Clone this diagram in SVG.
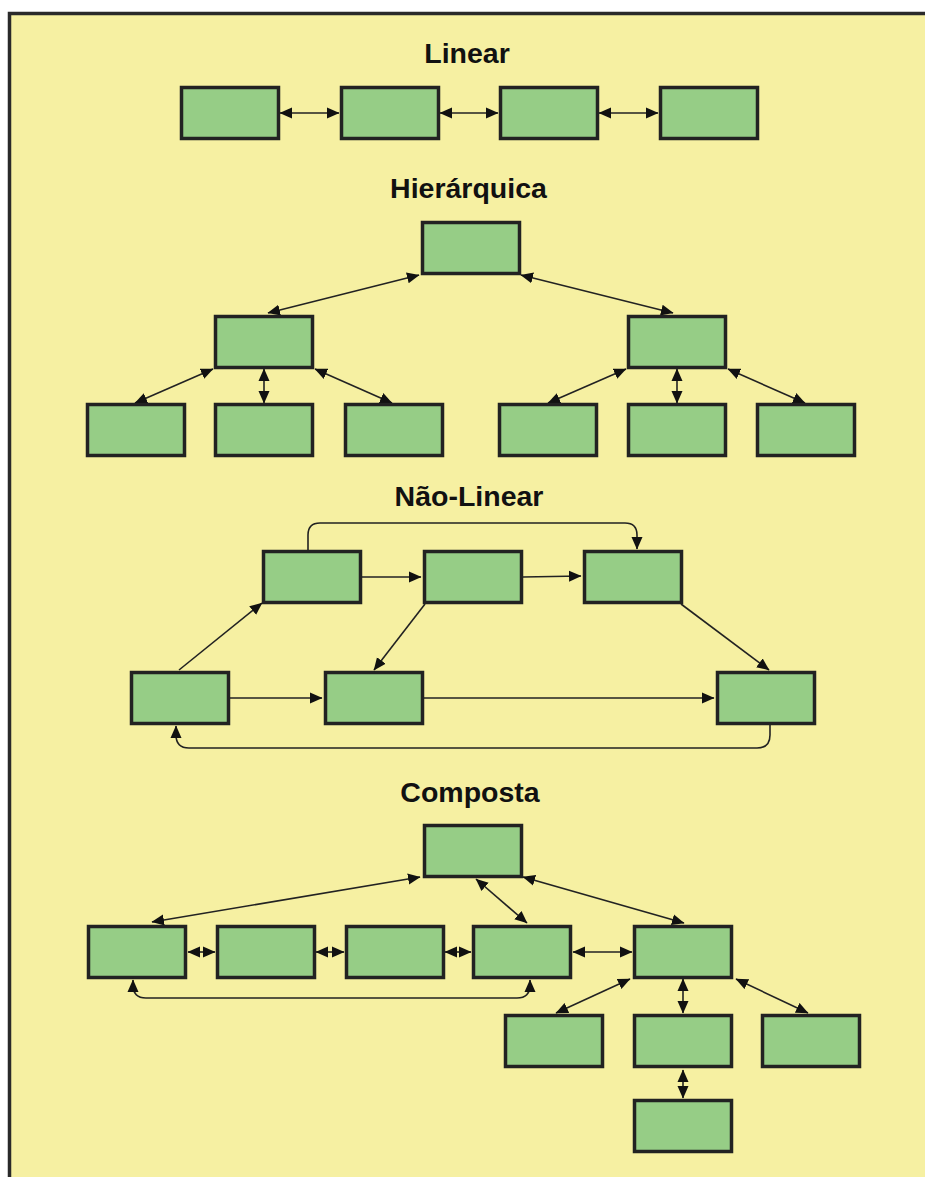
<svg xmlns="http://www.w3.org/2000/svg" width="925" height="1177" viewBox="0 0 925 1177">
<defs>
<style>
.bg{fill:#F6F0A2;stroke:#2a2a2a;stroke-width:3.5}
.n{fill:#96CD86;stroke:#222;stroke-width:3.5}
.t{font-family:"Liberation Sans",Arial,sans-serif;font-weight:bold;font-size:28.5px;fill:#111;text-anchor:middle}
.c{fill:none;stroke:#222;stroke-width:1.6}
.a2{marker-start:url(#ah);marker-end:url(#ah)}
.a1{marker-end:url(#ah)}
</style>
<marker id="ah" markerUnits="userSpaceOnUse" markerWidth="13" markerHeight="12" refX="12" refY="6" orient="auto-start-reverse">
<path d="M0,0.5 L12.5,6 L0,11.5 z" fill="#111"/>
</marker>
</defs>
<rect class="bg" x="9.5" y="13.5" width="1000" height="1200"/>

<g id="titles">
<text class="t" x="467" y="63">Linear</text>
<text class="t" x="468.5" y="198">Hierárquica</text>
<text class="t" x="469" y="506">Não-Linear</text>
<text class="t" x="470" y="802">Composta</text>
</g>

<g id="connectors">
<!-- Linear -->
<line class="c a2" x1="280" y1="113" x2="339" y2="113"/>
<line class="c a2" x1="440" y1="113" x2="498" y2="113"/>
<line class="c a2" x1="599" y1="113" x2="658" y2="113"/>
<!-- Hierarquica -->
<line class="c a2" x1="419" y1="275" x2="268" y2="313"/>
<line class="c a2" x1="521" y1="275" x2="673" y2="313"/>
<line class="c a2" x1="213" y1="369" x2="135" y2="403"/>
<line class="c a2" x1="264" y1="369" x2="264" y2="403"/>
<line class="c a2" x1="315" y1="369" x2="392" y2="403"/>
<line class="c a2" x1="626" y1="369" x2="548" y2="403"/>
<line class="c a2" x1="677" y1="369" x2="677" y2="403"/>
<line class="c a2" x1="728" y1="369" x2="805" y2="403"/>
<!-- Nao-Linear -->
<path class="c a1" d="M308,550 V535 Q308,523 320,523 H625 Q637,523 637,535 V549"/>
<line class="c a1" x1="362" y1="577" x2="421" y2="577"/>
<line class="c a1" x1="523" y1="577" x2="581" y2="576"/>
<line class="c a1" x1="179" y1="670" x2="262" y2="603"/>
<line class="c a1" x1="425" y1="604" x2="374" y2="670"/>
<line class="c a1" x1="681" y1="604" x2="769" y2="670"/>
<line class="c a1" x1="230" y1="698" x2="322" y2="698"/>
<line class="c a1" x1="424" y1="698" x2="714" y2="698"/>
<path class="c a1" d="M770,725 V735 Q770,748 757,748 H189 Q176,748 176,735 V726"/>
<!-- Composta -->
<line class="c a2" x1="420" y1="877" x2="152" y2="922"/>
<line class="c a2" x1="476" y1="879" x2="527" y2="923"/>
<line class="c a2" x1="523" y1="877" x2="684" y2="923"/>
<line class="c a2" x1="188" y1="952" x2="215" y2="952"/>
<line class="c a2" x1="316" y1="952" x2="344" y2="952"/>
<line class="c a2" x1="445" y1="952" x2="471" y2="952"/>
<line class="c a2" x1="573" y1="952" x2="632" y2="952"/>
<path class="c a2" d="M133,980 V985 Q133,998 146,998 H517 Q530,998 530,985 V980"/>
<line class="c a2" x1="630" y1="979" x2="556" y2="1013"/>
<line class="c a2" x1="683" y1="979" x2="683" y2="1013"/>
<line class="c a2" x1="736" y1="979" x2="808" y2="1013"/>
<line class="c a2" x1="683" y1="1070" x2="683" y2="1098"/>
</g>

<g id="linear">
<rect id="l1" class="n" x="181.5" y="87.5" width="97" height="51"/>
<rect id="l2" class="n" x="341.5" y="87.5" width="97" height="51"/>
<rect id="l3" class="n" x="500.5" y="87.5" width="97" height="51"/>
<rect id="l4" class="n" x="660.5" y="87.5" width="97" height="51"/>
</g>

<g id="hierarquica">
<rect id="h0" class="n" x="422.5" y="222.5" width="97" height="51"/>
<rect id="h1" class="n" x="215.5" y="316.5" width="97" height="51"/>
<rect id="h2" class="n" x="628.5" y="316.5" width="97" height="51"/>
<rect id="h11" class="n" x="87.5" y="404.5" width="97" height="51"/>
<rect id="h12" class="n" x="215.5" y="404.5" width="97" height="51"/>
<rect id="h13" class="n" x="345.5" y="404.5" width="97" height="51"/>
<rect id="h21" class="n" x="499.5" y="404.5" width="97" height="51"/>
<rect id="h22" class="n" x="628.5" y="404.5" width="97" height="51"/>
<rect id="h23" class="n" x="757.5" y="404.5" width="97" height="51"/>
</g>

<g id="naolinear">
<rect id="nA" class="n" x="263.5" y="551.5" width="97" height="51"/>
<rect id="nB" class="n" x="424.5" y="551.5" width="97" height="51"/>
<rect id="nC" class="n" x="584.5" y="551.5" width="97" height="51"/>
<rect id="nD" class="n" x="131.5" y="672.5" width="97" height="51"/>
<rect id="nE" class="n" x="325.5" y="672.5" width="97" height="51"/>
<rect id="nF" class="n" x="717.5" y="672.5" width="97" height="51"/>
</g>

<g id="composta">
<rect id="c0" class="n" x="424.5" y="825.5" width="97" height="51"/>
<rect id="c1" class="n" x="88.5" y="926.5" width="97" height="51"/>
<rect id="c2" class="n" x="217.5" y="926.5" width="97" height="51"/>
<rect id="c3" class="n" x="346.5" y="926.5" width="97" height="51"/>
<rect id="c4" class="n" x="473.5" y="926.5" width="97" height="51"/>
<rect id="c5" class="n" x="634.5" y="926.5" width="97" height="51"/>
<rect id="c51" class="n" x="505.5" y="1015.5" width="97" height="51"/>
<rect id="c52" class="n" x="634.5" y="1015.5" width="97" height="51"/>
<rect id="c53" class="n" x="762.5" y="1015.5" width="97" height="51"/>
<rect id="c6" class="n" x="634.5" y="1100.5" width="97" height="51"/>
</g>
</svg>
